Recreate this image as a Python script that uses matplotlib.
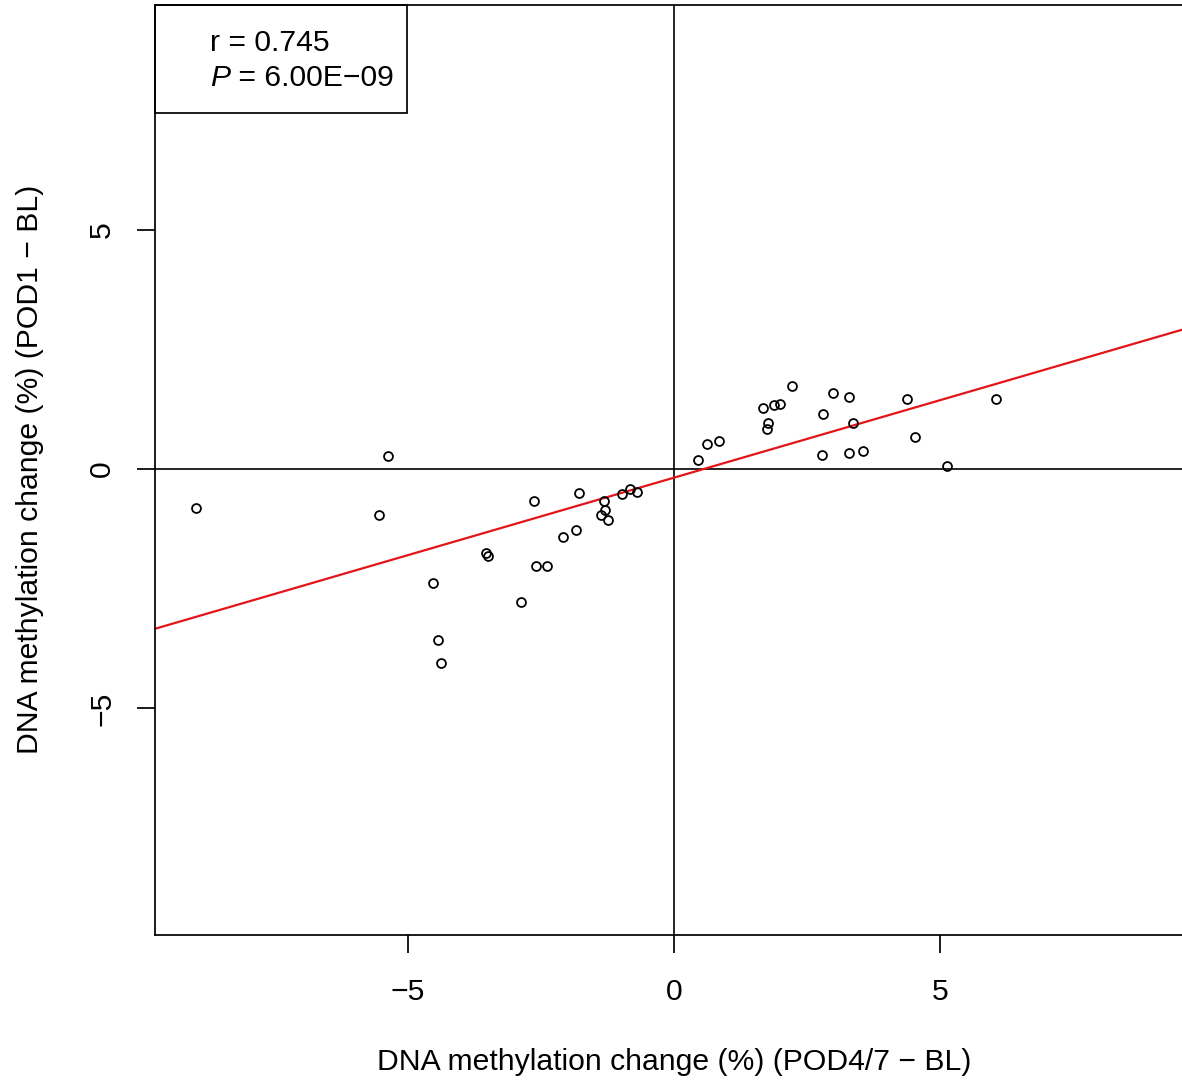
import matplotlib
matplotlib.use("Agg")
import matplotlib.pyplot as plt
from matplotlib.patches import Rectangle

plt.rcParams['font.family'] = ['Liberation Sans', 'DejaVu Sans']

# Data
pod47_change = [-8.97, -5.37, -5.53, -4.53, -4.42, -4.38, -3.53, -3.50, -2.63, -2.59,
                -2.39, -2.88, -2.09, -1.83, -1.78, -1.32, -1.29, -1.37, -1.23, -0.97,
                -0.82, -0.70,
                0.45, 0.61, 0.84, 1.67, 1.76, 1.74, 1.88, 1.99, 2.22, 2.80,
                2.78, 2.98, 3.29, 3.36, 3.29, 3.54, 4.38, 4.52, 5.13, 6.04]
pod1_change = [-0.81, 0.27, -0.95, -2.37, -3.58, -4.05, -1.75, -1.81, -0.67, -2.02,
               -2.03, -2.77, -1.41, -1.27, -0.49, -0.67, -0.86, -0.95, -1.06, -0.52,
               -0.42, -0.48,
               0.19, 0.52, 0.58, 1.27, 0.97, 0.83, 1.34, 1.36, 1.73, 1.15,
               0.29, 1.59, 1.50, 0.97, 0.33, 0.38, 1.46, 0.67, 0.06, 1.46]
fit_slope = 0.324
fit_intercept = -0.18
r_text = "r = 0.745"
p_text = " = 6.00E\u221209"
xticks = [-5, 0, 5]
yticks = [-5, 0, 5]
xlabel = "DNA methylation change (%) (POD4/7 \u2212 BL)"
ylabel = "DNA methylation change (%) (POD1 \u2212 BL)"

FS = 21.7
W, H = 1182, 1085
fig = plt.figure(figsize=(W / 100, H / 100), dpi=100)
ax = fig.add_axes([155 / W, 1 - 935 / H, (1193 - 155) / W, 930 / H])
ax.set_xlim(-9.74, 9.74)
ax.set_ylim(-9.73, 9.69)

ax.axhline(0, color='black', lw=1.2, zorder=1)
ax.axvline(0, color='black', lw=1.2, zorder=1)
ax.axline((0, fit_intercept), slope=fit_slope, color='#e3151a', lw=1.6, zorder=2)
ax.plot(pod47_change, pod1_change, 'o', mfc='none', mec='black', ms=6.4, mew=1.3, zorder=3)

for s in ax.spines.values():
    s.set_linewidth(1.25)
ax.set_xticks(xticks)
ax.set_yticks(yticks)
ax.set_xticklabels([f"{t}".replace('-', '\u2212') for t in xticks])
ax.set_yticklabels([f"{t}".replace('-', '\u2212') for t in yticks], rotation=90, va='center')
ax.tick_params(length=13, width=1.25, labelsize=FS)
ax.tick_params(axis='x', pad=18)
ax.tick_params(axis='y', pad=15)

fig.text(674 / W, 1 - 1062 / H, xlabel, ha='center', va='center', fontsize=FS)
fig.text(30 / W, 1 - 469 / H, ylabel, ha='center', va='center', fontsize=FS, rotation=90)

# legend box
bw = 252 / 1038
bh = 108 / 930
ax.add_patch(Rectangle((0, 1 - bh), bw, bh, transform=ax.transAxes, fill=False,
                       edgecolor='black', lw=1.25, zorder=5, clip_on=False))
fig.text(210 / W, 1 - 43 / H, r_text, ha='left', va='center', fontsize=FS)
pt = fig.text(210 / W, 1 - 78 / H, "P", ha='left', va='center', fontsize=FS, style='italic')
ax.annotate(p_text, xy=(1, 0), xycoords=pt, ha='left', va='bottom', fontsize=FS)

fig.savefig("out.png", dpi=100)
